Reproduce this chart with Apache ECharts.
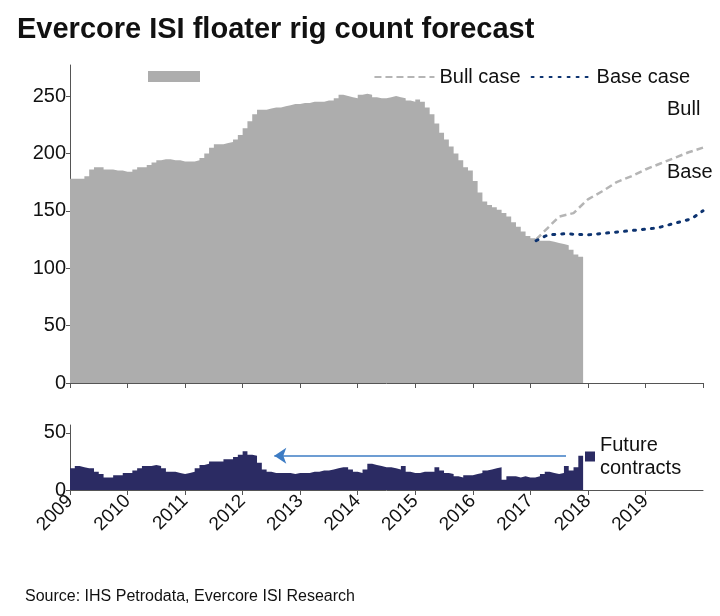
<!DOCTYPE html>
<html>
<head>
<meta charset="utf-8">
<script src="https://cdn.jsdelivr.net/npm/echarts@6/dist/echarts.min.js"></script>
<style>
  html, body { margin: 0; padding: 0; background: #fff; }
  #chart { width: 720px; height: 616px; }
</style>
</head>
<body>
<div id="chart"></div>
<script>
// --- Datos (mensuales desde ene-2009) ---
const startYear = 2009;
const rigCount = [
  178, 178, 178, 180, 186, 188, 188, 186, 186, 185, 185, 184,
  184, 186, 188, 188, 190, 192, 194, 195, 195, 194, 194, 193,
  193, 193, 194, 196, 200, 205, 208, 208, 209, 210, 212, 216,
  222, 228, 234, 238, 238, 239, 240, 240, 241, 242, 243, 243,
  244, 244, 245, 245, 245, 246, 246, 248, 251, 250, 249, 248,
  251, 252, 251, 249, 248, 248, 249, 250, 249, 248, 246, 245,
  247, 245, 240, 234, 226, 218, 212, 206, 200, 194, 188, 185,
  176, 166, 158, 155, 153, 151, 148, 145, 140, 136, 132, 128,
  126, 124, 124, 124, 123, 122, 121, 120, 116, 112, 110
];
const futureContracts = [
  19, 21, 20, 19, 19, 16, 14, 11, 11, 13, 13, 15,
  15, 17, 19, 21, 21, 22, 21, 19, 16, 16, 15, 14,
  15, 16, 19, 22, 23, 25, 25, 25, 27, 27, 29, 31,
  34, 31, 30, 24, 18, 16, 15, 15, 15, 15, 14, 15,
  15, 15, 16, 16, 17, 17, 18, 19, 20, 20, 18, 16,
  15, 18, 23, 22, 21, 20, 20, 19, 18, 21, 16, 15,
  15, 16, 16, 16, 20, 17, 15, 14, 12, 11, 13, 13,
  14, 15, 17, 18, 19, 20, 9, 12, 12, 11, 12, 11,
  11, 12, 14, 16, 15, 14, 15, 21, 17, 20, 30
];
const bullCase = [
  [2017.1, 125], [2017.3, 135], [2017.5, 145], [2017.75, 148], [2018.0, 160],
  [2018.25, 167], [2018.5, 175], [2018.75, 180], [2019.0, 186], [2019.25, 191],
  [2019.5, 196], [2019.75, 201], [2020.0, 205]
];
const baseCase = [
  [2017.1, 124], [2017.3, 129], [2017.6, 130], [2018.0, 129], [2018.4, 131],
  [2018.8, 133], [2019.2, 135], [2019.5, 139], [2019.8, 143], [2020.0, 150]
];
const arrowFrom = [2017.62, 30];
const arrowTo = [2012.55, 30];

const toXY = (arr) => {
  const pts = arr.map((v, i) => [startYear + i / 12, v]);
  pts.push([startYear + arr.length / 12, arr[arr.length - 1]]);
  return pts;
};

const axisColor = '#555';
const font = 'Liberation Sans, Arial, sans-serif';
const endLbl = (text) => ({ show: true, formatter: text, offset: [-44, -38], fontSize: 20, color: '#111', fontFamily: font });

const chart = echarts.init(document.getElementById('chart'));

chart.setOption({
  animation: false,
  title: [
    { text: 'Evercore ISI floater rig count forecast', left: 12, top: 10,
      textStyle: { fontFamily: 'Liberation Sans Narrow, Arial Narrow, sans-serif', fontWeight: 'bold', fontSize: 29, color: '#111' } },
    { text: 'Source: IHS Petrodata, Evercore ISI Research', left: 20, top: 584,
      textStyle: { fontFamily: font, fontWeight: 'normal', fontSize: 16, color: '#111' } }
  ],
  legend: [
    { left: 143, top: 66, itemWidth: 52, itemHeight: 11, data: ['Rigs'], formatter: () => '', icon: 'rect' },
    { right: 25, top: 62, itemWidth: 60, itemGap: 10, data: ['Bull case', 'Base case'],
      itemStyle: { opacity: 0 },
      textStyle: { fontSize: 20, fontFamily: font, color: '#111' } },
    { left: 580, top: 430, itemWidth: 10, itemHeight: 10, icon: 'rect', data: ['Future contracts'],
      formatter: () => 'Future\ncontracts', align: 'left',
      textStyle: { fontSize: 20, fontFamily: font, color: '#111', lineHeight: 23, verticalAlign: 'top', padding: [-8, 0, 0, 0] } }
  ],
  grid: [
    { left: 70, right: 17, top: 65, height: 318 },
    { left: 70, right: 17, top: 425, height: 65 }
  ],
  xAxis: [
    { gridIndex: 0, type: 'value', min: 2009, max: 2020, interval: 1,
      axisLine: { lineStyle: { color: axisColor } }, axisTick: { show: true, length: 5 },
      axisLabel: { show: false }, splitLine: { show: false } },
    { gridIndex: 1, type: 'value', min: 2009, max: 2020, interval: 1,
      axisLine: { lineStyle: { color: axisColor } }, axisTick: { show: true, length: 5 },
      axisLabel: { rotate: 45, fontSize: 19, color: '#111', fontFamily: font, showMaxLabel: false, margin: 8,
        formatter: (v) => String(v) },
      splitLine: { show: false } }
  ],
  yAxis: [
    { gridIndex: 0, type: 'value', min: 0, max: 277, interval: 50,
      axisLine: { show: true, lineStyle: { color: axisColor } }, axisTick: { show: true, length: 4 },
      axisLabel: { fontSize: 20, color: '#111', fontFamily: font, showMaxLabel: false, margin: 4 },
      splitLine: { show: false } },
    { gridIndex: 1, type: 'value', min: 0, max: 57, interval: 50,
      axisLine: { show: true, lineStyle: { color: axisColor } }, axisTick: { show: true, length: 4 },
      axisLabel: { fontSize: 20, color: '#111', fontFamily: font, showMaxLabel: false, margin: 4 },
      splitLine: { show: false } }
  ],
  series: [
    { name: 'Rigs', type: 'line', xAxisIndex: 0, yAxisIndex: 0, step: 'end', symbol: 'none',
      data: toXY(rigCount), itemStyle: { color: '#adadad' },
      lineStyle: { width: 0 }, areaStyle: { color: '#adadad', opacity: 1 } },
    { name: 'Bull case', type: 'line', xAxisIndex: 0, yAxisIndex: 0, symbol: 'none',
      data: bullCase, itemStyle: { color: '#b5b5b5' }, endLabel: endLbl('Bull'),
      lineStyle: { color: '#b5b5b5', width: 2.5, type: [7, 4] } },
    { name: 'Base case', type: 'line', xAxisIndex: 0, yAxisIndex: 0, symbol: 'none',
      data: baseCase, itemStyle: { color: '#0d3370' }, endLabel: endLbl('Base'),
      lineStyle: { color: '#0d3370', width: 3, type: [2, 7], cap: 'round' } },
    { name: 'Future contracts', type: 'line', xAxisIndex: 1, yAxisIndex: 1, step: 'end', symbol: 'none',
      data: toXY(futureContracts), itemStyle: { color: '#2b2b63' },
      lineStyle: { width: 0 }, areaStyle: { color: '#2b2b63', opacity: 1 },
      markLine: {
        silent: true, symbol: ['none', 'arrow'], symbolSize: 12, label: { show: false },
        lineStyle: { color: '#3d7cc4', width: 1.5, type: 'solid' },
        data: [[{ coord: arrowFrom }, { coord: arrowTo }]]
      } }
  ]
});
</script>
</body>
</html>
